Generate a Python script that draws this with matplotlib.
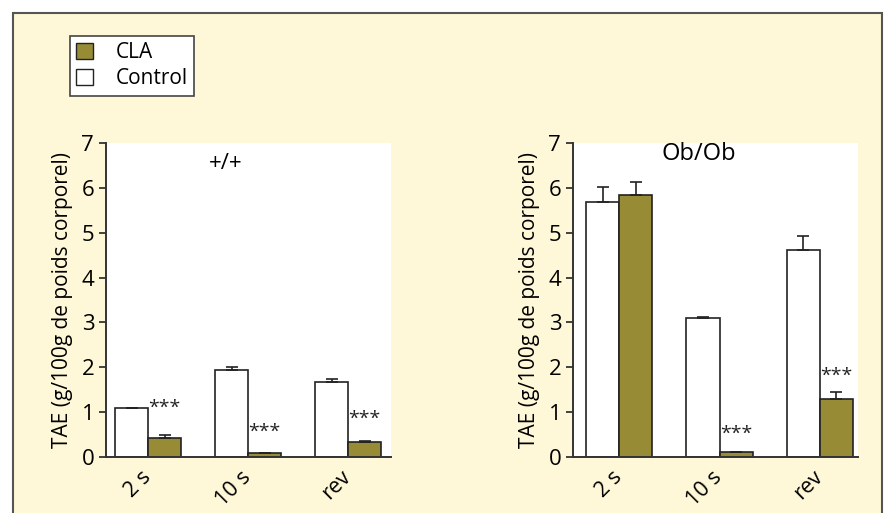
import numpy as np
import matplotlib.pyplot as plt
import matplotlib.transforms as mtransforms
from matplotlib.patches import Patch, Rectangle

plt.rcParams['font.family'] = ['Open Sans', 'DejaVu Sans']

groups = ['2 s', '10 s', 'rev']

# +/+ panel
wt_control = [1.09, 1.93, 1.67]
wt_control_err = [0.01, 0.08, 0.08]
wt_cla = [0.43, 0.09, 0.34]
wt_cla_err = [0.07, 0.0, 0.02]
wt_stars = ['***', '***', '***']
wt_stars_y = [1.10, 0.55, 0.85]

# Ob/Ob panel
ob_control = [5.68, 3.09, 4.61]
ob_control_err = [0.35, 0.04, 0.31]
ob_cla = [5.85, 0.12, 1.29]
ob_cla_err = [0.27, 0.0, 0.15]
ob_stars = ['', '***', '***']
ob_stars_y = [0, 0.52, 1.80]

OLIVE = '#978c35'
CREAM = '#fef8d8'
EDGE = '#222222'


def draw_panel(fig, ax, control, control_err, cla, cla_err, stars, stars_y,
               title, title_x, title_y, title_size, xlim):
    x = np.arange(len(groups))
    w = 0.33
    ekw = dict(ecolor=EDGE, elinewidth=1.2, capsize=4, capthick=1.2)
    ax.bar(x - w / 2, control, w, color='white', edgecolor=EDGE, linewidth=1.2,
           yerr=[np.zeros(len(x)), control_err], error_kw=ekw, zorder=2)
    ax.bar(x + w / 2, cla, w, color=OLIVE, edgecolor=EDGE, linewidth=1.2,
           yerr=[np.zeros(len(x)), cla_err], error_kw=ekw, zorder=2)
    for xi, s, sy in zip(x, stars, stars_y):
        if s:
            ax.text(xi + w / 2, sy, s, ha='center', va='center', fontsize=14, color='#222222')
    ax.set_xlim(*xlim)
    ax.set_ylim(0, 7)
    ax.set_yticks(range(8))
    ax.set_xticks(x)
    ax.set_xticklabels(groups, rotation=45, ha='right', va='top', fontsize=15.5)
    ax.tick_params(axis='x', length=0, pad=7)
    # nudge rotated labels a little to the right
    shift = mtransforms.ScaledTranslation(5 / 72, 0, fig.dpi_scale_trans)
    for lab in ax.get_xticklabels():
        lab.set_transform(lab.get_transform() + shift)
    ax.tick_params(axis='y', length=5, width=1.3, labelsize=16, color='#333333')
    for sp in ['top', 'right']:
        ax.spines[sp].set_visible(False)
    for sp in ['left', 'bottom']:
        ax.spines[sp].set_linewidth(1.4)
        ax.spines[sp].set_color('#333333')
    ax.set_facecolor('white')
    ax.set_ylabel('TAE (g/100g de poids corporel)', fontsize=15, labelpad=6)
    ax.text(title_x, title_y, title, transform=ax.get_yaxis_transform(),
            fontsize=title_size, ha='center', va='center')


fig = plt.figure(figsize=(8.84, 5.13), dpi=100)
fig.patch.set_facecolor('white')
fig.patches.append(Rectangle((13 / 884, -0.05), 869 / 884, 1.05 - 13 / 513, transform=fig.transFigure,
                             facecolor=CREAM, edgecolor='#555555', linewidth=1.5, zorder=-10))

ax1 = fig.add_axes([106 / 884, 56 / 513, 285 / 884, 314 / 513])
ax2 = fig.add_axes([573 / 884, 56 / 513, 285 / 884, 314 / 513])

draw_panel(fig, ax1, wt_control, wt_control_err, wt_cla, wt_cla_err, wt_stars, wt_stars_y,
           '+/+', 0.42, 6.55, 16, (-0.42, 2.43))
draw_panel(fig, ax2, ob_control, ob_control_err, ob_cla, ob_cla_err, ob_stars, ob_stars_y,
           'Ob/Ob', 0.44, 6.75, 17, (-0.46, 2.38))

handles = [Patch(facecolor=OLIVE, edgecolor=EDGE, label='CLA'),
           Patch(facecolor='white', edgecolor=EDGE, label='Control')]
leg = fig.legend(handles=handles, loc='upper left', bbox_to_anchor=(70 / 884, 1 - 36 / 513),
                 borderaxespad=0, fancybox=False, edgecolor='#444444', framealpha=1,
                 fontsize=15, handlelength=0.8, handleheight=0.8, handletextpad=1.1,
                 labelspacing=0.25, borderpad=0.3)
leg.get_frame().set_linewidth(1.2)

fig.savefig('out.png', dpi=100, facecolor=fig.get_facecolor())
